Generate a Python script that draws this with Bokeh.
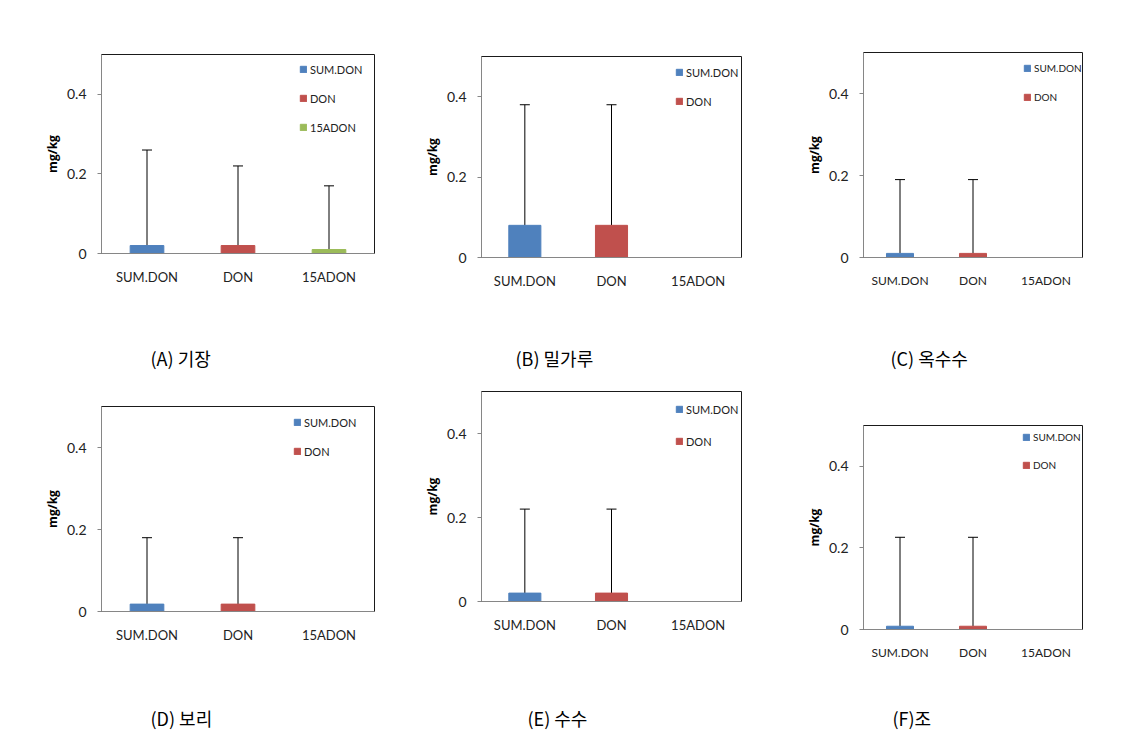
from bokeh.plotting import figure
from bokeh.models import (FactorRange, Range1d, FixedTicker, Whisker, TeeHead,
                          ColumnDataSource, Legend, LegendItem, Label)
from bokeh.layouts import row, column
from bokeh.embed import file_html
from bokeh.resources import INLINE

# ---------------- data ----------------
categories = ["SUM.DON", "DON", "15ADON"]
bar_colors = ["#4F81BD", "#C0504D", "#9BBB59"]
y_ticks = [0, 0.2, 0.4]
y_tick_labels = ["0", "0.2", "0.4"]
y_max = 0.5
unit_label = "mg/kg"

captions = ["(A) 기장", "(B) 밀가루", "(C) 옥수수", "(D) 보리", "(E) 수수", "(F)조"]

mean_A = [0.02, 0.02, 0.01]
sd_A = [0.24, 0.20, 0.16]
mean_B = [0.08, 0.08, 0.0]
sd_B = [0.30, 0.30, 0.0]
mean_C = [0.01, 0.01, 0.0]
sd_C = [0.18, 0.18, 0.0]
mean_D = [0.018, 0.018, 0.0]
sd_D = [0.162, 0.162, 0.0]
mean_E = [0.02, 0.02, 0.0]
sd_E = [0.20, 0.20, 0.0]
mean_F = [0.008, 0.008, 0.0]
sd_F = [0.218, 0.218, 0.0]

legend_A = ["SUM.DON", "DON", "15ADON"]
legend_rest = ["SUM.DON", "DON"]

# ---------------- layout (page pixels, origin at top-left of page) ----------------
COLS = [(0, 390), (390, 375), (765, 375)]
# vertical bands: chart row 1, caption row 1, chart row 2, caption row 2
BANDS = [(0, 330), (330, 50), (380, 310), (690, 43)]

geoms = [
    dict(col=0, rowi=0, frame=(101, 54, 374, 253), leg=(198, 5, 9), cap=(150, 357), small=False),
    dict(col=1, rowi=0, frame=(481, 56, 741, 257), leg=(194, 6, 9), cap=(515, 357), small=False),
    dict(col=2, rowi=0, frame=(863, 52, 1082, 257), leg=(160, 6, 9), cap=(890, 357), small=True),
    dict(col=0, rowi=1, frame=(101, 406, 374, 611), leg=(192, 6, 9), cap=(150, 717), small=False),
    dict(col=1, rowi=1, frame=(481, 391, 741, 601), leg=(194, 8, 12), cap=(527, 717), small=False),
    dict(col=2, rowi=1, frame=(863, 425, 1082, 629), leg=(159, 2, 8), cap=(892, 717), small=True),
]

AXIS_GREY = "#868686"
TEXT_COL = "#222222"


def make_panel(mean, sd, legend_cats, g):
    fx, fw = COLS[g["col"]]
    fy, fh = BANDS[2 * g["rowi"]]
    l, t, r, b = g["frame"]
    frame_h = b - t

    p = figure(x_range=FactorRange(*categories, range_padding=0),
               y_range=Range1d(0, y_max),
               width=fw, height=fh, title=None,
               min_border_left=l - fx, min_border_right=fx + fw - r,
               min_border_top=t - fy, min_border_bottom=fy + fh - b,
               output_backend="svg", toolbar_location=None,
               background_fill_color="white", border_fill_color="white",
               outline_line_color="#1a1a1a", outline_line_width=1)
    p.xgrid.grid_line_color = None
    p.ygrid.grid_line_color = None

    cat_size = "12px" if g["small"] else "13px"
    leg_size = "10px" if g["small"] else "11px"

    # bars
    items = []
    for cat, m, col in zip(categories, mean, bar_colors):
        rnd = p.vbar(x=[cat], top=[m], width=0.37, fill_color=col, line_color=col)
        if cat in legend_cats:
            items.append(LegendItem(label=cat, renderers=[rnd]))

    # error bars (upper only)
    ex, eb, eu = [], [], []
    for cat, m, s in zip(categories, mean, sd):
        if s > 0:
            ex.append(cat)
            eb.append(m)
            eu.append(m + s)
    src = ColumnDataSource(dict(x=ex, lower=eb, upper=eu))
    p.add_layout(Whisker(source=src, base="x", lower="lower", upper="upper",
                         dimension="height", line_color="black", line_width=1,
                         lower_head=None,
                         upper_head=TeeHead(size=10, line_color="black", line_width=1)))

    # legend
    dx, dtop, spacing = g["leg"]
    n = len(items)
    leg_h = n * 20 + (n - 1) * spacing
    legend = Legend(items=items, location=(dx, frame_h - dtop - leg_h),
                    orientation="vertical", padding=0, margin=0, spacing=spacing,
                    glyph_width=8, glyph_height=8, label_standoff=3, label_height=20,
                    label_text_font="Lato", label_text_font_size=leg_size,
                    label_text_color=TEXT_COL,
                    border_line_color=None, background_fill_alpha=0)
    p.add_layout(legend)

    # axes
    xa = p.xaxis[0]
    xa.axis_line_color = AXIS_GREY
    xa.major_tick_line_color = None
    xa.minor_tick_line_color = None
    xa.major_label_standoff = 9
    xa.major_label_text_font = "Lato"
    xa.major_label_text_font_size = cat_size
    xa.major_label_text_color = TEXT_COL

    ya = p.yaxis[0]
    ya.ticker = FixedTicker(ticks=y_ticks)
    ya.major_label_overrides = {tk: lb for tk, lb in zip(y_ticks, y_tick_labels)}
    ya.axis_line_color = AXIS_GREY
    ya.major_tick_line_color = AXIS_GREY
    ya.major_tick_out = 4
    ya.major_tick_in = 0
    ya.minor_tick_line_color = None
    ya.major_label_standoff = 11
    ya.major_label_text_font = "Lato"
    ya.major_label_text_font_size = "14px"
    ya.major_label_text_color = TEXT_COL
    ya.axis_label = unit_label
    ya.axis_label_text_font = "Open Sans"
    ya.axis_label_text_font_style = "bold"
    ya.axis_label_text_font_size = "12px"
    ya.axis_label_text_color = "black"
    ya.axis_label_standoff = 3
    return p


def make_caption(caption, g):
    fx, fw = COLS[g["col"]]
    cy0, ch = BANDS[2 * g["rowi"] + 1]
    l, t, r, b = g["frame"]
    c = figure(width=fw, height=ch, title=None,
               x_range=Range1d(0, r - l), y_range=Range1d(ch, 0),
               min_border_left=l - fx, min_border_right=fx + fw - r,
               min_border_top=0, min_border_bottom=0,
               x_axis_location=None, y_axis_location=None,
               output_backend="svg", toolbar_location=None,
               background_fill_color="white", border_fill_color="white",
               outline_line_color=None)
    c.grid.visible = False
    cx, cy = g["cap"]
    c.add_layout(Label(x=cx - l, y=cy - cy0, text=caption, text_align="left",
                       text_baseline="middle", text_font="Noto Sans CJK KR",
                       text_font_size="18px", text_color="black"))
    return c


data = [(mean_A, sd_A, legend_A), (mean_B, sd_B, legend_rest), (mean_C, sd_C, legend_rest),
        (mean_D, sd_D, legend_rest), (mean_E, sd_E, legend_rest), (mean_F, sd_F, legend_rest)]

panels = [make_panel(m, s, lc, g) for (m, s, lc), g in zip(data, geoms)]
caps = [make_caption(cap, g) for cap, g in zip(captions, geoms)]

layout = row(column(panels[0], caps[0], panels[3], caps[3]),
             column(panels[1], caps[1], panels[4], caps[4]),
             column(panels[2], caps[2], panels[5], caps[5]))

open("out.html", "w").write(file_html(layout, INLINE))
